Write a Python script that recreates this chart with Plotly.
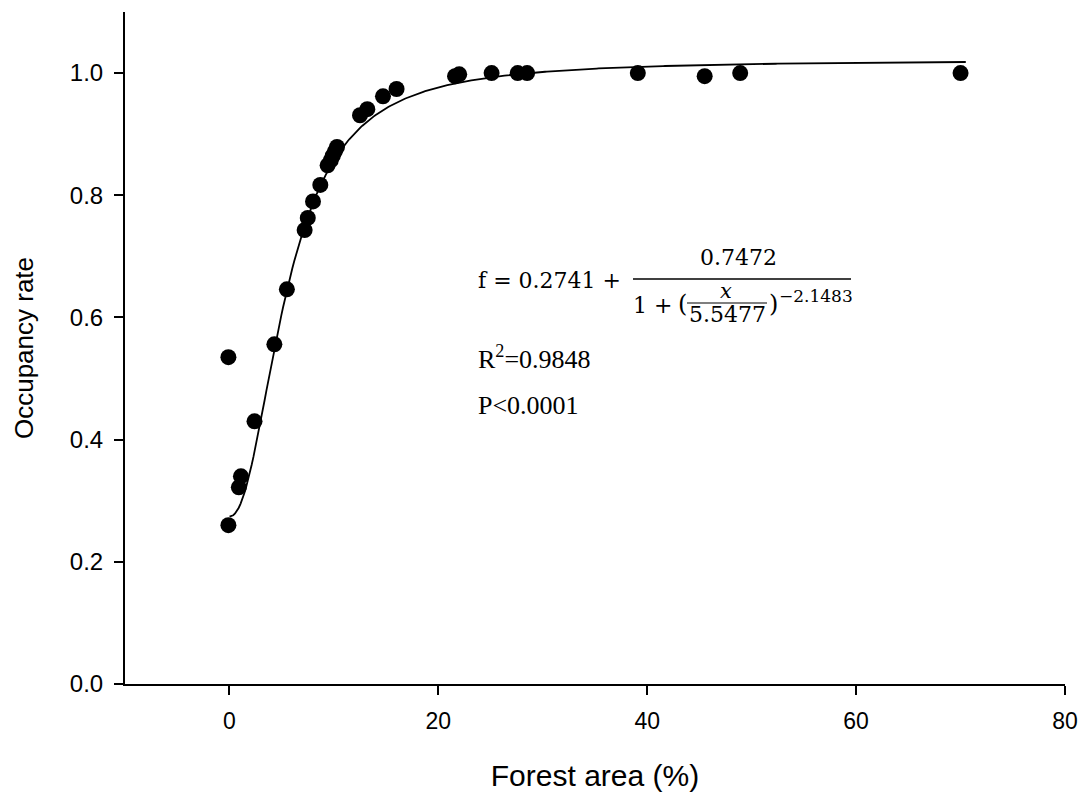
import numpy as np
import plotly.graph_objects as go

# Observed occupancy vs. forest cover
forest_area = [-0.1, -0.1, 0.9, 1.1, 2.4, 4.3, 5.5, 7.2, 7.5, 8.0, 8.7,
               9.4, 9.7, 9.9, 10.1, 10.3, 12.5, 13.2, 14.7, 16.0,
               21.6, 22.0, 25.1, 27.6, 28.5, 39.1, 45.5, 48.9, 70.0]
occupancy = [0.26, 0.535, 0.322, 0.34, 0.43, 0.556, 0.646, 0.743, 0.763, 0.79, 0.817,
             0.849, 0.857, 0.865, 0.872, 0.879, 0.931, 0.941, 0.962, 0.974,
             0.995, 0.998, 1.0, 1.0, 1.0, 1.0, 0.995, 1.0, 1.0]

# Fitted 4-parameter logistic model
y0, a, x0, b = 0.2741, 0.7472, 5.5477, -2.1483
fit_x = np.linspace(0.01, 70.5, 400)
fit_y = y0 + a / (1 + (fit_x / x0) ** b)

x_ticks = [0, 20, 40, 60, 80]
y_ticks = [0.0, 0.2, 0.4, 0.6, 0.8, 1.0]

W, H = 1081, 798
L, R, T, B = 125, 16, 12, 114
PW, PH = W - L - R, H - T - B


def px(xp):
    return (xp - L) / PW


def py(yp):
    return (H - B - yp) / PH


fig = go.Figure()
fig.add_trace(go.Scatter(x=fit_x, y=fit_y, mode="lines",
                         line=dict(color="black", width=1.8), hoverinfo="skip"))
fig.add_trace(go.Scatter(x=forest_area, y=occupancy, mode="markers",
                         marker=dict(color="black", size=16, line=dict(width=0))))

serif = "Cambria Math, DejaVu Serif, Liberation Serif, serif"
times = "Liberation Serif, Times New Roman, serif"
# equation pieces: text, x, y (pixels), font size, anchor
eq = [
    ("f = 0.2741 +", 477, 280, 22, "left"),
    ("0.7472", 738, 257, 22, "center"),
    ("1 +", 632, 305, 22, "left"),
    ("(", 677, 304, 24, "left"),
    ("<i>x</i>", 726, 291, 21, "center"),
    ("5.5477", 727, 315, 22, "center"),
    (")", 768, 304, 24, "left"),
    ("−2.1483", 778, 296, 17, "left"),
]
anns = []
for txt, xx, yy, sz, anc in eq:
    anns.append(dict(text=txt, x=px(xx), y=py(yy), xref="paper", yref="paper",
                     xanchor=anc, yanchor="middle", showarrow=False, borderpad=0,
                     font=dict(family=serif, size=sz, color="black")))
anns.append(dict(text="R<sup>2</sup>=0.9848", x=px(476), y=py(358), xref="paper", yref="paper",
                 xanchor="left", yanchor="middle", showarrow=False,
                 font=dict(family=times, size=26, color="black")))
anns.append(dict(text="P&lt;0.0001", x=px(476), y=py(405), xref="paper", yref="paper",
                 xanchor="left", yanchor="middle", showarrow=False,
                 font=dict(family=times, size=26, color="black")))

shapes = [
    dict(type="line", xref="paper", yref="paper", x0=px(633), x1=px(851),
         y0=py(279), y1=py(279), line=dict(color="black", width=1.3)),
    dict(type="line", xref="paper", yref="paper", x0=px(687), x1=px(767),
         y0=py(303), y1=py(303), line=dict(color="black", width=1.1)),
]

sans = "Liberation Sans, Arial, sans-serif"
fig.update_layout(
    width=W, height=H,
    margin=dict(l=L, r=R, t=T, b=B),
    plot_bgcolor="white", paper_bgcolor="white",
    showlegend=False,
    annotations=anns, shapes=shapes,
    xaxis=dict(range=[-10, 80], tickvals=x_ticks, showgrid=False, zeroline=False,
               automargin=False,
               showline=True, linecolor="black", linewidth=2,
               ticks="outside", ticklen=9, tickwidth=1.5, tickcolor="black",
               tickfont=dict(family=sans, size=23, color="black"),
               ticklabelstandoff=6,
               title=dict(text="Forest area (%)", standoff=32,
                          font=dict(family=sans, size=30, color="black"))),
    yaxis=dict(range=[0, 1.1], tickvals=y_ticks, tickformat=".1f", showgrid=False,
               automargin=False,
               zeroline=False, showline=True, linecolor="black", linewidth=2,
               ticks="outside", ticklen=9, tickwidth=1.5, tickcolor="black",
               tickfont=dict(family=sans, size=24, color="black"),
               ticklabelstandoff=6,
               title=dict(text="Occupancy rate", standoff=29,
                          font=dict(family=sans, size=26, color="black"))),
)

fig.write_html("out.html")
